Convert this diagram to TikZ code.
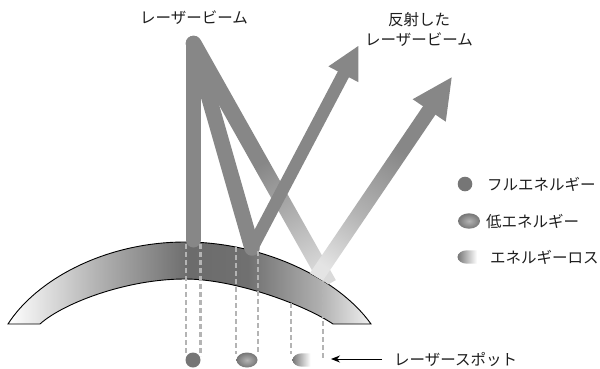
\documentclass[tikz,border=0pt]{standalone}
\usepackage{fontspec}
\newfontfamily\jpfont{Noto Sans CJK JP}
\usetikzlibrary{arrows.meta}

\definecolor{beam}{HTML}{878787}
\definecolor{beamtail}{HTML}{DADADA}
\definecolor{beamstart}{HTML}{E4E4E4}
\definecolor{beammid}{HTML}{B3B3B3}
\definecolor{lensA}{HTML}{B4B4B4}
\definecolor{lensB}{HTML}{6C6C6C}
\definecolor{lensC}{HTML}{707070}
\definecolor{lensD}{HTML}{B0B0B0}
\definecolor{lensE}{HTML}{F0F0F0}
\definecolor{guidegray}{HTML}{B4B4B4}
\definecolor{spotgray}{HTML}{767676}
\definecolor{inkgray}{HTML}{1E1E1E}

% lens body: white at the rim, dark around the apex
\pgfdeclarehorizontalshading{lensgrad}{100bp}{color(0bp)=(white); color(25bp)=(white);
  color(37bp)=(lensA); color(50bp)=(lensB); color(58bp)=(lensC); color(68bp)=(lensD);
  color(75bp)=(lensE); color(100bp)=(lensE)}
% incident beam losing energy towards the lens
\pgfdeclarehorizontalshading{incfade}{100bp}{color(0bp)=(beam); color(25bp)=(beam);
  color(50bp)=(beam); color(72bp)=(beamtail); color(100bp)=(beamtail)}
% reflected beam gaining strength away from the lens
\pgfdeclarehorizontalshading{reffade}{100bp}{color(0bp)=(beamstart); color(25bp)=(beamstart);
  color(30bp)=(beamstart); color(45bp)=(beammid); color(63bp)=(beam); color(100bp)=(beam)}

\tikzset{
  guide/.style={draw=guidegray, line width=2.6pt, dash pattern=on 5pt off 3pt},
  label/.style={font=\jpfont\fontsize{15.5}{20}\selectfont, text=inkgray, inner sep=0pt},
  solidbeam/.style={draw=beam, line cap=round},
}

\begin{document}
\begin{tikzpicture}[x=1pt, y=-1pt]
\useasboundingbox (0,0) rectangle (600,368);

% lens cross-section
\shade[shading=lensgrad, draw=black, line width=0.9pt]
  (8,324) .. controls (36,280) and (105,242) .. (185,242)
  .. controls (265,242) and (340,280) .. (371,324)
  -- (333,324) .. controls (305,305) and (235,279) .. (185,279)
  .. controls (125,279) and (62,304) .. (40,324) -- cycle;

% fading beam and its reflection, cut at the lens surface
\begin{scope}
  \clip (0,0) -- (0,324) -- (8,324) .. controls (36,280) and (105,242) .. (185,242)
    .. controls (265,242) and (340,280) .. (371,324) -- (600,324) -- (600,0) -- cycle;
  \begin{scope}[transform canvas={shift={(193.5,43.5)}, rotate=-60.63}]
    \shade[shading=incfade] (0,-8) rectangle (276,8);
  \end{scope}
  \begin{scope}[transform canvas={shift={(321,270)}, rotate=55.85}]
    \shade[shading=reffade] (-16,-7.5) rectangle (193.8,7.5);
    \fill[beam] (192.8,-20) -- (232.8,0) -- (192.8,20) -- cycle;
  \end{scope}
\end{scope}

% full-energy beam and the low-energy path
\draw[solidbeam, line width=15pt] (193.5,43.5) -- (193.5,240);
\draw[solidbeam, line width=15.5pt] (193.5,43.5) -- (252,248);
\draw[solidbeam, line width=12.5pt] (252,248) -- (343.4,74.3);
\fill[beam] (328.4,66.4) -- (358.3,46) -- (358.4,82.2) -- cycle;
\fill[beam] (193.5,43.5) circle (7.8);

% projection guides down to the spots
\draw[guide] (186,244) -- (186,354);
\draw[guide] (200.5,244) -- (200.5,356);
\draw[guide] (236,247) -- (236,354);
\draw[guide] (258,251) -- (258,354);
\draw[guide] (291,303) -- (291,354);
\draw[guide] (323,281) -- (323,358);

% laser spots
\fill[spotgray] (193,360) circle (7.5);
\shade[inner color=lensA, outer color=spotgray] (247,360) ellipse [x radius=10.5, y radius=7.5];
\shade[left color=spotgray, right color=white]
  (310.5,353.3) -- (302,353.3) arc[start angle=270, end angle=90, x radius=9.5, y radius=6.7]
  -- (310.5,366.7) -- cycle;

% legend symbols
\fill[spotgray] (465,184) circle (7.3);
\shade[inner color=lensA, outer color=spotgray] (469,221) ellipse [x radius=11, y radius=7.7];
\shade[left color=spotgray, right color=white]
  (477,250.3) -- (467,250.3) arc[start angle=270, end angle=90, x radius=9.5, y radius=6.7]
  -- (477,263.7) -- cycle;

% texts
\node[label] (incident) at (194,18) {レーザービーム};
\node[label, align=center] (reflected) at (419,29) {反射した\\レーザービーム};
\node[label, anchor=west] (full) at (487,184.5) {フルエネルギー};
\node[label, anchor=west] (low) at (486,221.5) {低エネルギー};
\node[label, anchor=west] (loss) at (490,257) {エネルギーロス};
\node[label, anchor=west] (spotlbl) at (394,359.5) {レーザースポット};

\coordinate (spottail) at (382,359);
\coordinate (spottip) at (331,359);
\draw[black, line width=0.9pt, -{Stealth[length=9pt, width=7pt]}] (spottail) -- (spottip);
\end{tikzpicture}
\end{document}
